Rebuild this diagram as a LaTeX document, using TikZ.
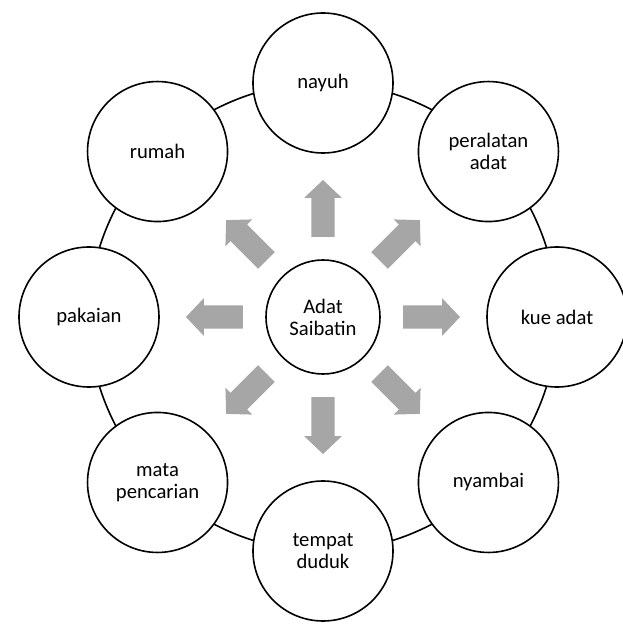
\documentclass[tikz,border=0pt]{standalone}
\usepackage{fontspec}
\setmainfont{Carlito}
\definecolor{arrowgray}{RGB}{166,166,166}

\begin{document}
\begin{tikzpicture}[x=0.75pt,y=0.75pt,
    item/.style={circle, draw, line width=1.2pt, fill=white, minimum size=105pt,
      inner sep=0pt, align=center, font=\fontsize{15.5}{16.5}\selectfont}]
  \useasboundingbox (-323,-311) rectangle (299,317);
  % ring behind the circles
  \draw[line width=1.2pt] (0,0) circle (234);
  % block arrows
  \foreach \a in {0,45,...,315}
    \fill[arrowgray, rotate=\a] (80,-11.7) -- (119,-11.7) -- (119,-19) -- (137,0)
      -- (119,19) -- (119,11.7) -- (80,11.7) -- cycle;
  \node[item, minimum size=85.5pt] (adat) at (0,0) {Adat\\Saibatin};
  \node[item] (nayuh) at (90:234) {nayuh};
  \node[item] (peralatan) at (45:234) {peralatan\\adat};
  \node[item] (kue) at (0:234) {kue adat};
  \node[item] (nyambai) at (-45:234) {nyambai};
  \node[item] (tempat) at (-90:234) {tempat\\duduk};
  \node[item] (mata) at (-135:234) {mata\\pencarian};
  \node[item] (pakaian) at (180:234) {pakaian};
  \node[item] (rumah) at (135:234) {rumah};
\end{tikzpicture}
\end{document}
